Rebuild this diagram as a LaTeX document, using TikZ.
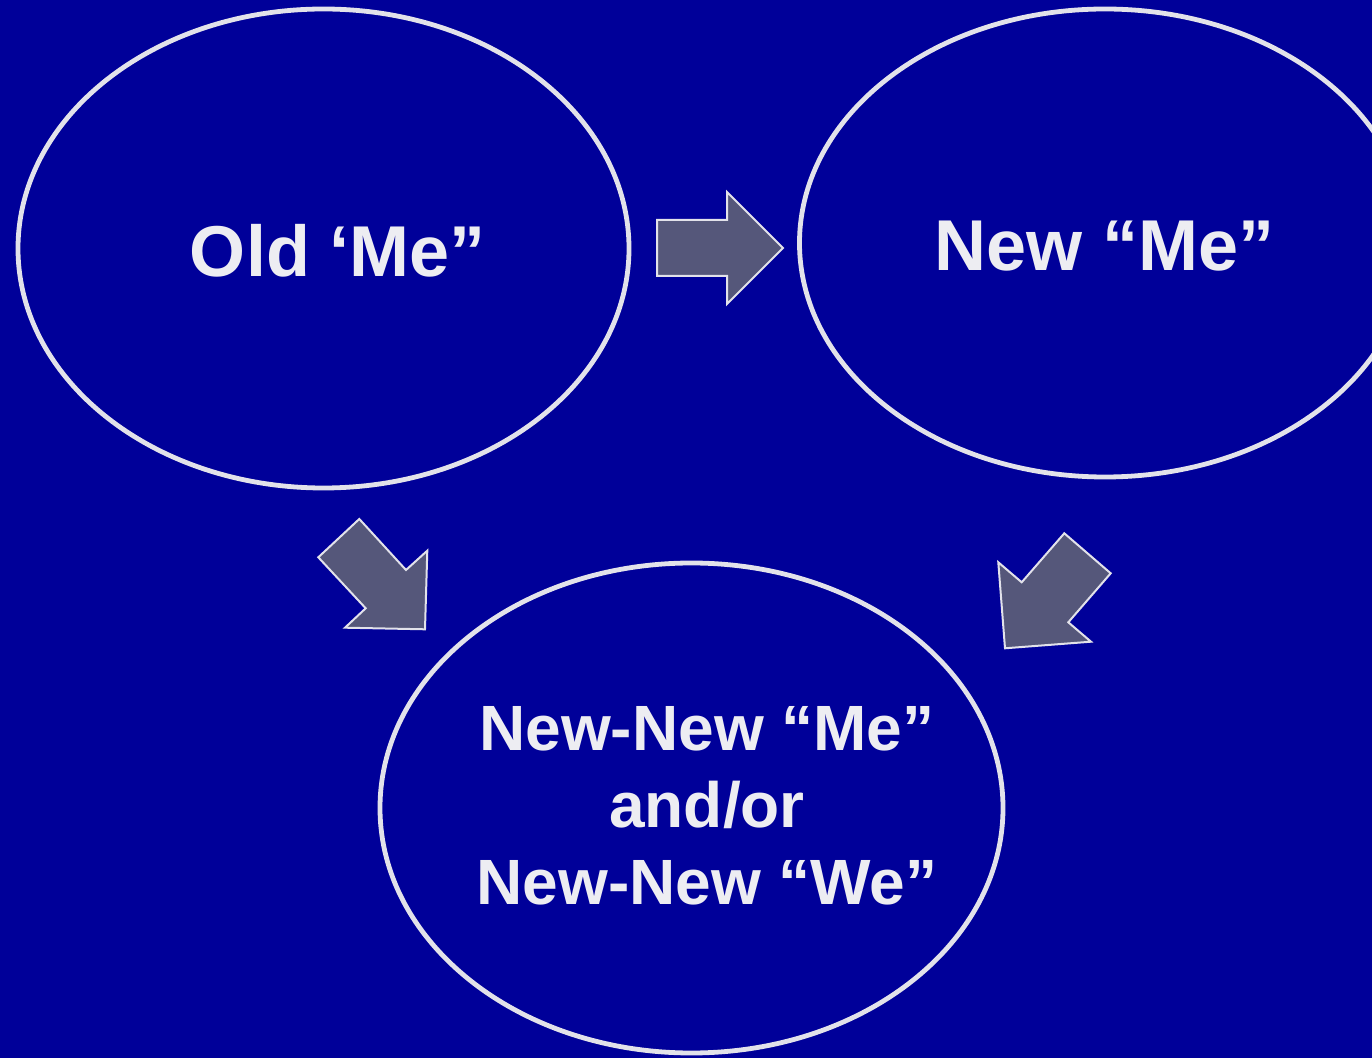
\documentclass[tikz,border=0pt]{standalone}
\usepackage{fontspec}
\setmainfont{Liberation Sans}
\usetikzlibrary{shapes.geometric}
\definecolor{bgblue}{HTML}{000099}
\definecolor{ringgray}{HTML}{E2E2EA}
\definecolor{arrowfill}{HTML}{55577A}
\definecolor{txtgray}{HTML}{EDEDF2}
\tikzset{
  ring/.style={ellipse, draw=ringgray, line width=2.4pt, inner sep=0pt},
  blockarrow/.style={fill=arrowfill, draw=ringgray, line width=1pt, line join=miter},
  bigtext/.style={text=txtgray, font=\bfseries\fontsize{36}{38.5}\selectfont, align=center},
  smalltext/.style={text=txtgray, font=\bfseries\fontsize{32}{38.5}\selectfont, align=center}
}
\begin{document}
\begin{tikzpicture}[x=0.5pt,y=-0.5pt]
\useasboundingbox (0,0) rectangle (1372,1058);
\fill[bgblue] (0,0) rectangle (1372,1058);
\clip (0,0) rectangle (1372,1058);
\node[ring, minimum width=305.5pt, minimum height=239.5pt] (old) at (323.5,248.5) {};
\node[ring, minimum width=305.5pt, minimum height=234pt] (new) at (1105,243) {};
\node[ring, minimum width=311.5pt, minimum height=245pt] (newnew) at (691.5,808) {};
\node[bigtext] (oldt) at (338,251) {Old ‘Me”};
\node[bigtext] (newt) at (1105,246) {New “Me”};
\node[smalltext] (newnewt) at (707,806) {New-New “Me”\\and/or\\New-New “We”};
% right arrow
\draw[blockarrow] (657,220) -- (727,220) -- (727,192) -- (783,248) -- (727,304) -- (727,276) -- (657,276) -- cycle;
% down-right arrow
\draw[blockarrow] (359.3,519) -- (318.3,557.3) -- (365.7,608.3) -- (345,627.7) -- (425,629.3) -- (427.3,550.7) -- (406,570) -- cycle;
% down-left arrow
\draw[blockarrow] (1064.3,533.3) -- (1110.7,573.3) -- (1068.3,622.3) -- (1091,641.7) -- (1005,648.3) -- (998.3,562.3) -- (1021.7,582.3) -- cycle;
\end{tikzpicture}
\end{document}
